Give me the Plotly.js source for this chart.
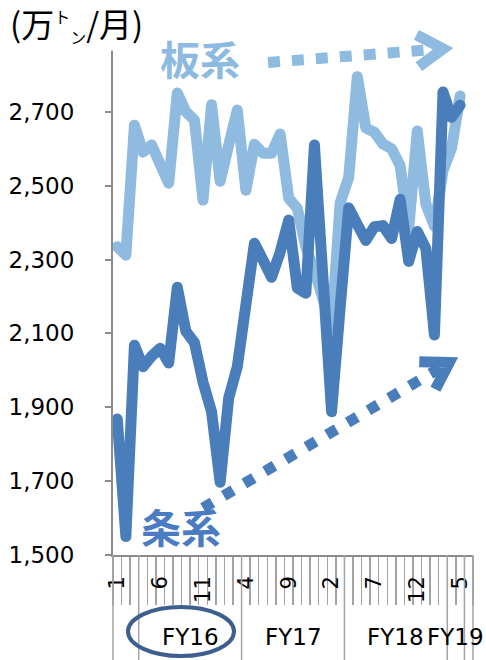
<!DOCTYPE html>
<html><head><meta charset="utf-8">
<script src="https://cdn.plot.ly/plotly-3.0.1.min.js"></script>
<style>html,body{margin:0;padding:0;background:#fff;}#chart{width:486px;height:660px;}</style>
</head><body><div id="chart"></div>
<script>
// ---- data ----
const months = ['2016/1','2016/2','2016/3','2016/4','2016/5','2016/6','2016/7','2016/8','2016/9','2016/10','2016/11','2016/12',
  '2017/1','2017/2','2017/3','2017/4','2017/5','2017/6','2017/7','2017/8','2017/9','2017/10','2017/11','2017/12',
  '2018/1','2018/2','2018/3','2018/4','2018/5','2018/6','2018/7','2018/8','2018/9','2018/10','2018/11','2018/12',
  '2019/1','2019/2','2019/3','2019/4','2019/5'];
// 板系 (flat products)
const itaValues = [2335,2312,2664,2591,2610,2560,2507,2751,2700,2678,2461,2719,2512,2610,2705,2488,2612,2588,2588,2640,
  2466,2439,2333,2271,2190,2115,2453,2523,2795,2656,2645,2613,2600,2555,2385,2648,2450,2390,2540,2602,2743];
// 条系 (long products)
const joValues = [1868,1550,2068,2010,2038,2060,2020,2225,2106,2075,1968,1888,1697,1925,2010,2190,2344,2299,2252,2320,
  2407,2223,2209,2610,2250,1888,2170,2440,2395,2352,2389,2392,2357,2463,2295,2376,2330,2096,2754,2685,2718];
const seriesNames = ['板系','条系'];
const yTickValues = [1500,1700,1900,2100,2300,2500,2700,2900];
const fyLabelPrefix = 'FY';
const unitTitle = '(万<sup><span style="font-size:16px">ト</span></sup><sub><span style="font-size:16px">ン</span></sub>/月)';

// ---- layout geometry ----
const W=486,H=660,L=113,R=13,T=38,B=105;
const pw=W-L-R, ph=H-T-B;
const slots = months.length + 1;
const px2x = p => (p-L)/pw;
const py2y = p => (H-B-p)/ph;
const LIGHT='#8FBBE0', DARK='#4A7EBB', AXIS='#8c8c8c', TICK='#a3a3a3';

const xs = months.map((_,i)=>i);
const monthTickIdx = xs.filter(i => i%5===0);
const monthTickText = monthTickIdx.map(i => months[i].split('/')[1]);
const boundaries = [];
for (let i=0;i<=slots;i++) boundaries.push(i-0.5);

// fiscal-year groups (April start)
const fy = months.map(m => { const [y,mo]=m.split('/').map(Number); return mo>=4?y:y-1; });
const groups = [];
fy.forEach((f,i)=>{ if(!groups.length || groups[groups.length-1].fy!==f) groups.push({fy:f,start:i,end:i}); else groups[groups.length-1].end=i; });
const firstFY = 2016;

const shapes = [];
const annotations = [];
const longLines = new Set([ -0.5, slots-0.5, months.length-0.5 ]);
groups.forEach(g => longLines.add(g.start-0.5));
longLines.forEach(b => {
  const xp = (b+0.5)/slots;
  shapes.push({type:'line',xref:'paper',yref:'paper',x0:xp,x1:xp,y0:0,y1:-B/ph,line:{color:TICK,width:1.5}});
});
groups.forEach(g => {
  if (g.fy < firstFY) return;
  const c = (g.start+g.end)/2;
  annotations.push({xref:'paper',yref:'paper',x:(c+0.5)/slots,y:py2y(637),text:fyLabelPrefix+String(g.fy).slice(2),
    showarrow:false,xanchor:'center',yanchor:'middle',font:{family:'DejaVu Sans',size:23,color:'#000'}});
});
shapes.push({type:'circle',xref:'paper',yref:'paper',x0:px2x(128),x1:px2x(234),y0:py2y(607),y1:py2y(656),line:{color:'#3D5F8E',width:4}});

function arrow(x0,y0,tx,ty,color,w,dash){
  const dx=tx-x0, dy=ty-y0, len=Math.hypot(dx,dy), ux=dx/len, uy=dy/len;
  const vx=tx-9*ux, vy=ty-9*uy;
  const ex=vx-6*ux, ey=vy-6*uy;
  shapes.push({type:'line',xref:'paper',yref:'paper',x0:px2x(x0),y0:py2y(y0),x1:px2x(ex),y1:py2y(ey),line:{color:color,width:w,dash:dash}});
  const bx=-ux, by=-uy, th=32*Math.PI/180, Lr=30;
  const a1x=vx+Lr*(bx*Math.cos(th)-by*Math.sin(th)), a1y=vy+Lr*(bx*Math.sin(th)+by*Math.cos(th));
  const a2x=vx+Lr*(bx*Math.cos(-th)-by*Math.sin(-th)), a2y=vy+Lr*(bx*Math.sin(-th)+by*Math.cos(-th));
  shapes.push({type:'path',xref:'paper',yref:'paper',
    path:`M ${px2x(a1x)} ${py2y(a1y)} L ${px2x(vx)} ${py2y(vy)} L ${px2x(a2x)} ${py2y(a2y)}`,
    line:{color:color,width:w},fillcolor:'rgba(0,0,0,0)'});
}
arrow(268,62.5,452,48,LIGHT,11,'12px,12px');
arrow(203,508,457,358,DARK,11,'11px,13px');

annotations.push({xref:'paper',yref:'paper',x:px2x(199.5),y:py2y(57.5),text:seriesNames[0],showarrow:false,xanchor:'center',yanchor:'middle',
  font:{family:'Noto Sans CJK JP',size:40,color:'#8DBAE0',weight:'bold'}});
annotations.push({xref:'paper',yref:'paper',x:px2x(181),y:py2y(526),text:seriesNames[1],showarrow:false,xanchor:'center',yanchor:'middle',
  font:{family:'Noto Sans CJK JP',size:40,color:'#4B7BC2',weight:'bold'}});
annotations.push({xref:'paper',yref:'paper',x:px2x(8),y:py2y(24),text:unitTitle,showarrow:false,xanchor:'left',yanchor:'middle',
  bgcolor:'#fff',borderpad:1,font:{family:'Noto Sans CJK JP',size:33,color:'#000'}});

const traces = [
  {x:xs,y:itaValues,name:seriesNames[0],type:'scatter',mode:'lines',line:{color:LIGHT,width:11},hoverinfo:'skip'},
  {x:xs,y:joValues,name:seriesNames[1],type:'scatter',mode:'lines',line:{color:DARK,width:11},hoverinfo:'skip'},
  {x:[0],y:[null],xaxis:'x2',type:'scatter',mode:'lines',showlegend:false,hoverinfo:'skip'}
];
const layout = {
  width:W,height:H,margin:{l:L,r:R,t:T,b:B,pad:0},showlegend:false,
  paper_bgcolor:'#fff',plot_bgcolor:'#fff',
  xaxis:{range:[-0.5,slots-0.5],tickmode:'array',tickvals:boundaries,showticklabels:false,ticks:'outside',ticklen:48,tickwidth:1.5,tickcolor:TICK,
    showline:true,linecolor:AXIS,linewidth:2,showgrid:false,zeroline:false,fixedrange:true},
  xaxis2:{overlaying:'x',anchor:'y',side:'bottom',range:[-0.5,slots-0.5],tickmode:'array',tickvals:monthTickIdx,ticktext:monthTickText,
    tickangle:-90,ticks:'',ticklabelstandoff:16,showline:false,showgrid:false,zeroline:false,tickfont:{family:'DejaVu Sans',size:21,color:'#000'}},
  yaxis:{range:[1500,2900],tickmode:'array',tickvals:yTickValues,ticktext:yTickValues.map(v=>v.toLocaleString('en-US')),
    ticks:'outside',ticklen:6,tickwidth:2,tickcolor:AXIS,showline:true,linecolor:AXIS,linewidth:2,showgrid:false,zeroline:false,
    ticklabelstandoff:26,tickfont:{family:'DejaVu Sans',size:23,color:'#000'}},
  shapes:shapes,annotations:annotations
};
Plotly.newPlot('chart',traces,layout,{staticPlot:true,displayModeBar:false}).then(gd=>{
  gd.querySelectorAll('.scatterlayer .js-line').forEach(p=>{p.style.strokeLinejoin='round';p.style.strokeLinecap='round';});
});
</script></body></html>
